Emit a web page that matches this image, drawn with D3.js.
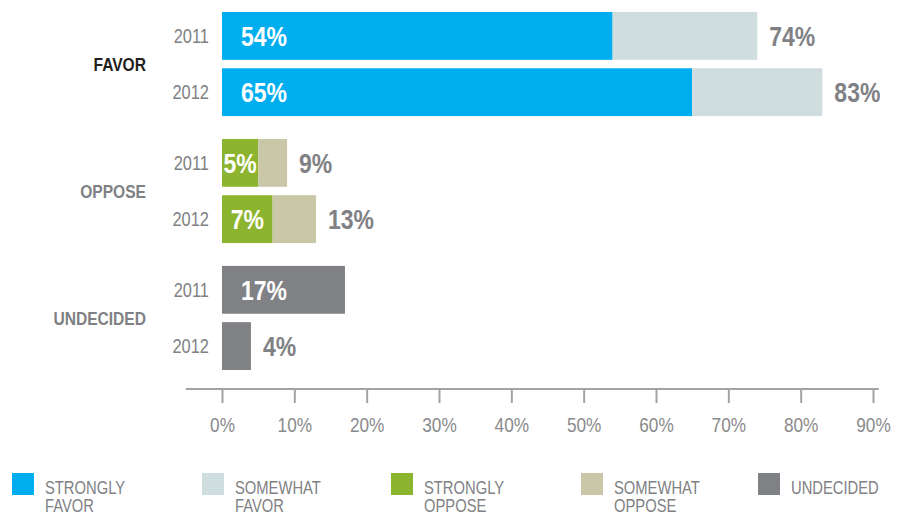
<!DOCTYPE html>
<html>
<head>
<meta charset="utf-8">
<script src="https://cdn.jsdelivr.net/npm/d3@7"></script>
<style>
  body { margin: 0; background: #fff; }
  svg text { font-family: "Liberation Sans", Arial, sans-serif; }
</style>
</head>
<body>
<div id="chart"></div>
<script>
// data
const groups = ["FAVOR", "OPPOSE", "UNDECIDED"];
const years = ["2011", "2012"];
const favorStrong = [54, 65];
const favorSomewhat = [20, 18];
const opposeStrong = [5, 7];
const opposeSomewhat = [4, 6];
const undecided = [17, 4];
const axisTicks = [0, 10, 20, 30, 40, 50, 60, 70, 80, 90];
const legendKeys = ["sf", "swf", "so", "swo", "und"];
const legendLabels = [
  ["STRONGLY", "FAVOR"],
  ["SOMEWHAT", "FAVOR"],
  ["STRONGLY", "OPPOSE"],
  ["SOMEWHAT", "OPPOSE"],
  ["UNDECIDED"],
];

const width = 910, height = 518;
const narrow = 0.82; // squeeze text to look like a condensed face

const color = d3
  .scaleOrdinal()
  .domain(legendKeys)
  .range(["#00aeef", "#d0dddf", "#8db42f", "#c9c7a8", "#808184"]);

// rows built from the arrays above
const rows = [];
years.forEach((yr, i) => {
  rows.push({ group: "FAVOR", year: yr, segs: [["sf", favorStrong[i]], ["swf", favorSomewhat[i]]] });
});
years.forEach((yr, i) => {
  rows.push({ group: "OPPOSE", year: yr, segs: [["so", opposeStrong[i]], ["swo", opposeSomewhat[i]]] });
});
years.forEach((yr, i) => {
  rows.push({ group: "UNDECIDED", year: yr, segs: [["und", undecided[i]]] });
});
rows.forEach((r) => {
  let acc = 0;
  r.parts = r.segs.map(([k, v]) => {
    const p = { key: k, v: v, x0: acc, x1: acc + v };
    acc += v;
    return p;
  });
  r.total = acc;
});

const svg = d3
  .select("#chart")
  .append("svg")
  .attr("width", width)
  .attr("height", height);

const x = d3.scaleLinear().domain([0, 90]).range([222, 873]);

const y0 = d3.scaleBand().domain(groups).range([12, 370]).paddingInner(0.18);
const y1 = d3.scaleBand().domain(years).range([0, y0.bandwidth()]).paddingInner(0.15);

const rowY = (r) => y0(r.group) + y1(r.year);

// bars
const rowG = svg
  .selectAll(".row")
  .data(rows)
  .enter()
  .append("g")
  .attr("class", "row")
  .attr("transform", (r) => `translate(0,${rowY(r)})`);

rowG
  .selectAll("rect")
  .data((r) => r.parts)
  .enter()
  .append("rect")
  .attr("x", (p) => x(p.x0))
  .attr("width", (p) => x(p.x1) - x(p.x0))
  .attr("height", y1.bandwidth())
  .attr("fill", (p) => color(p.key));

// year labels
rowG
  .append("text")
  .attr("x", x(0) - 13)
  .attr("y", y1.bandwidth() / 2)
  .attr("dy", "0.36em")
  .attr("text-anchor", "end")
  .attr("fill", "#808184")
  .style("font-size", "20px")
  .text((r) => r.year);

// labels inside the first segment
rowG
  .filter((r) => r.parts[0].v >= 5)
  .append("text")
  .each(function (r) {
    const p = r.parts[0];
    const w = x(p.x1) - x(p.x0);
    const t = d3.select(this);
    if (w > 70) {
      t.attr("x", x(0) + 19).attr("text-anchor", "start");
    } else {
      t.attr("x", (x(p.x0) + x(p.x1)) / 2).attr("text-anchor", "middle");
    }
  })
  .attr("y", y1.bandwidth() / 2)
  .attr("dy", "0.36em")
  .attr("fill", "#fff")
  .style("font-size", "28px")
  .style("font-weight", "bold")
  .text((r) => r.parts[0].v + "%");

// totals outside the bar
rowG
  .filter((r) => r.parts.length > 1 || r.parts[0].v < 5)
  .append("text")
  .attr("x", (r) => x(r.total) + 12)
  .attr("y", y1.bandwidth() / 2)
  .attr("dy", "0.36em")
  .attr("fill", "#808184")
  .style("font-size", "28px")
  .style("font-weight", "bold")
  .text((r) => r.total + "%");

// group labels
svg
  .selectAll(".group-label")
  .data(groups)
  .enter()
  .append("text")
  .attr("class", "group-label")
  .attr("x", 146)
  .attr("y", (g) => y0(g) + y0.bandwidth() / 2)
  .attr("dy", "0.36em")
  .attr("text-anchor", "end")
  .attr("fill", (g, i) => (i === 0 ? "#231f20" : "#808184"))
  .style("font-size", "19px")
  .style("font-weight", "bold")
  .text((g) => g);

// axis
const axisG = svg
  .append("g")
  .attr("transform", "translate(0,389)")
  .call(
    d3
      .axisBottom(x)
      .tickValues(axisTicks)
      .tickFormat((d) => d + "%")
      .tickSize(14)
      .tickPadding(14)
  );
axisG.select(".domain").remove();
axisG
  .append("line")
  .attr("x1", x(-5))
  .attr("x2", x(90.8))
  .attr("stroke", "#a3a3a3")
  .attr("stroke-width", 2);
axisG.selectAll(".tick line").attr("stroke", "#a3a3a3").attr("stroke-width", 2);
axisG
  .selectAll(".tick text")
  .attr("fill", "#8a8a8c")
  .style("font-size", "21px")
  .style("font-family", null);
axisG.attr("font-family", null);

// legend
const legendX = [12, 202, 391, 581, 758];
const legend = svg
  .selectAll(".legend")
  .data(legendKeys)
  .enter()
  .append("g")
  .attr("class", "legend")
  .attr("transform", (d, i) => `translate(${legendX[i]},473)`);

legend
  .append("rect")
  .attr("width", 22)
  .attr("height", 22)
  .attr("fill", (d) => color(d));

legend
  .append("text")
  .attr("x", 33)
  .attr("fill", "#808184")
  .style("font-size", "18px")
  .selectAll("tspan")
  .data((d, i) => legendLabels[i])
  .enter()
  .append("tspan")
  .attr("x", 33)
  .attr("y", (t, j) => 21 + j * 18)
  .text((t) => t);

// condense every text run
svg.selectAll("text").each(function () {
  const spans = this.querySelectorAll("tspan");
  const targets = spans.length ? Array.from(spans) : [this];
  targets.forEach((el) => {
    const len = el.getComputedTextLength();
    el.setAttribute("textLength", len * narrow);
    el.setAttribute("lengthAdjust", "spacingAndGlyphs");
  });
});
</script>
</body>
</html>
